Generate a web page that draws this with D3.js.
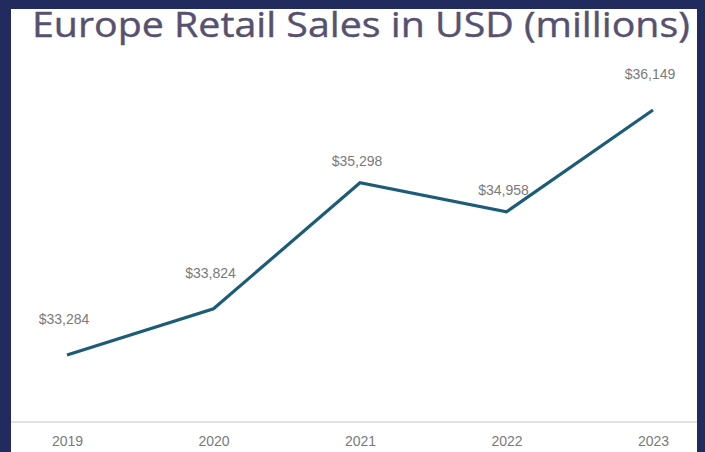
<!DOCTYPE html>
<html>
<head>
<meta charset="utf-8">
<script src="https://cdn.jsdelivr.net/npm/d3@7"></script>
<style>
  html, body { margin: 0; padding: 0; background: #222b5e; }
  svg { display: block; }
</style>
</head>
<body>
<svg id="chart" width="705" height="452"></svg>
<script>
// Europe retail sales, USD millions
const years = ["2019", "2020", "2021", "2022", "2023"];
const sales = [33284, 33824, 35298, 34958, 36149];
const titleText = "Europe Retail Sales in USD (millions)";

const W = 705, H = 452;
const svg = d3.select("#chart");

// navy frame with white card
svg.append("rect").attr("width", W).attr("height", H).attr("fill", "#222b5e");
svg.append("rect").attr("x", 11).attr("y", 9).attr("width", 686).attr("height", H - 9).attr("fill", "#ffffff");

// title, stretched to span the card
const title = svg.append("text")
  .attr("x", 0).attr("y", 0)
  .attr("font-family", "'Open Sans', sans-serif")
  .attr("font-size", 35)
  .attr("fill", "#56516f")
  .attr("stroke", "#56516f")
  .attr("stroke-width", 0.4)
  .text(titleText);
const tw = title.node().getComputedTextLength();
title.attr("transform", `translate(32,37) scale(${658 / tw},1)`);

const x = d3.scalePoint().domain(years).range([67, 653]);
const y = d3.scaleLinear().domain([32500, 36500]).range([422, 80]);

// baseline axis
const axis = svg.append("g")
  .attr("transform", `translate(0,${y(32500)})`)
  .call(d3.axisBottom(x).tickSize(0).tickPadding(14));
axis.select(".domain").remove();
svg.append("line")
  .attr("x1", 11).attr("x2", 697)
  .attr("y1", y(32500)).attr("y2", y(32500))
  .attr("stroke", "#e2e2e2").attr("stroke-width", 2);
axis.selectAll("text")
  .attr("font-family", "'Liberation Sans', Arial, sans-serif")
  .attr("font-size", 14)
  .attr("fill", "#7a7a7a");

const pts = years.map((yr, i) => ({ yr, v: sales[i] }));

// sales line
svg.append("path")
  .datum(pts)
  .attr("fill", "none")
  .attr("stroke", "#1c5c77")
  .attr("stroke-width", 3.2)
  .attr("stroke-linejoin", "miter")
  .attr("d", d3.line().x(d => x(d.yr)).y(d => y(d.v)));

// value labels: sit closer to the line at turning points
const fmt = d3.format("$,");
svg.append("g").selectAll("text")
  .data(pts)
  .join("text")
  .attr("x", d => x(d.yr) - 3)
  .attr("y", (d, i) => {
    const turning = i > 0 && i < pts.length - 1 &&
      Math.sign(d.v - pts[i - 1].v) !== Math.sign(pts[i + 1].v - d.v);
    return y(d.v) - (turning ? 17 : 31);
  })
  .attr("text-anchor", "middle")
  .attr("font-family", "'Liberation Sans', Arial, sans-serif")
  .attr("font-size", 14)
  .attr("fill", "#7a7a7a")
  .text(d => fmt(d.v));
</script>
</body>
</html>
